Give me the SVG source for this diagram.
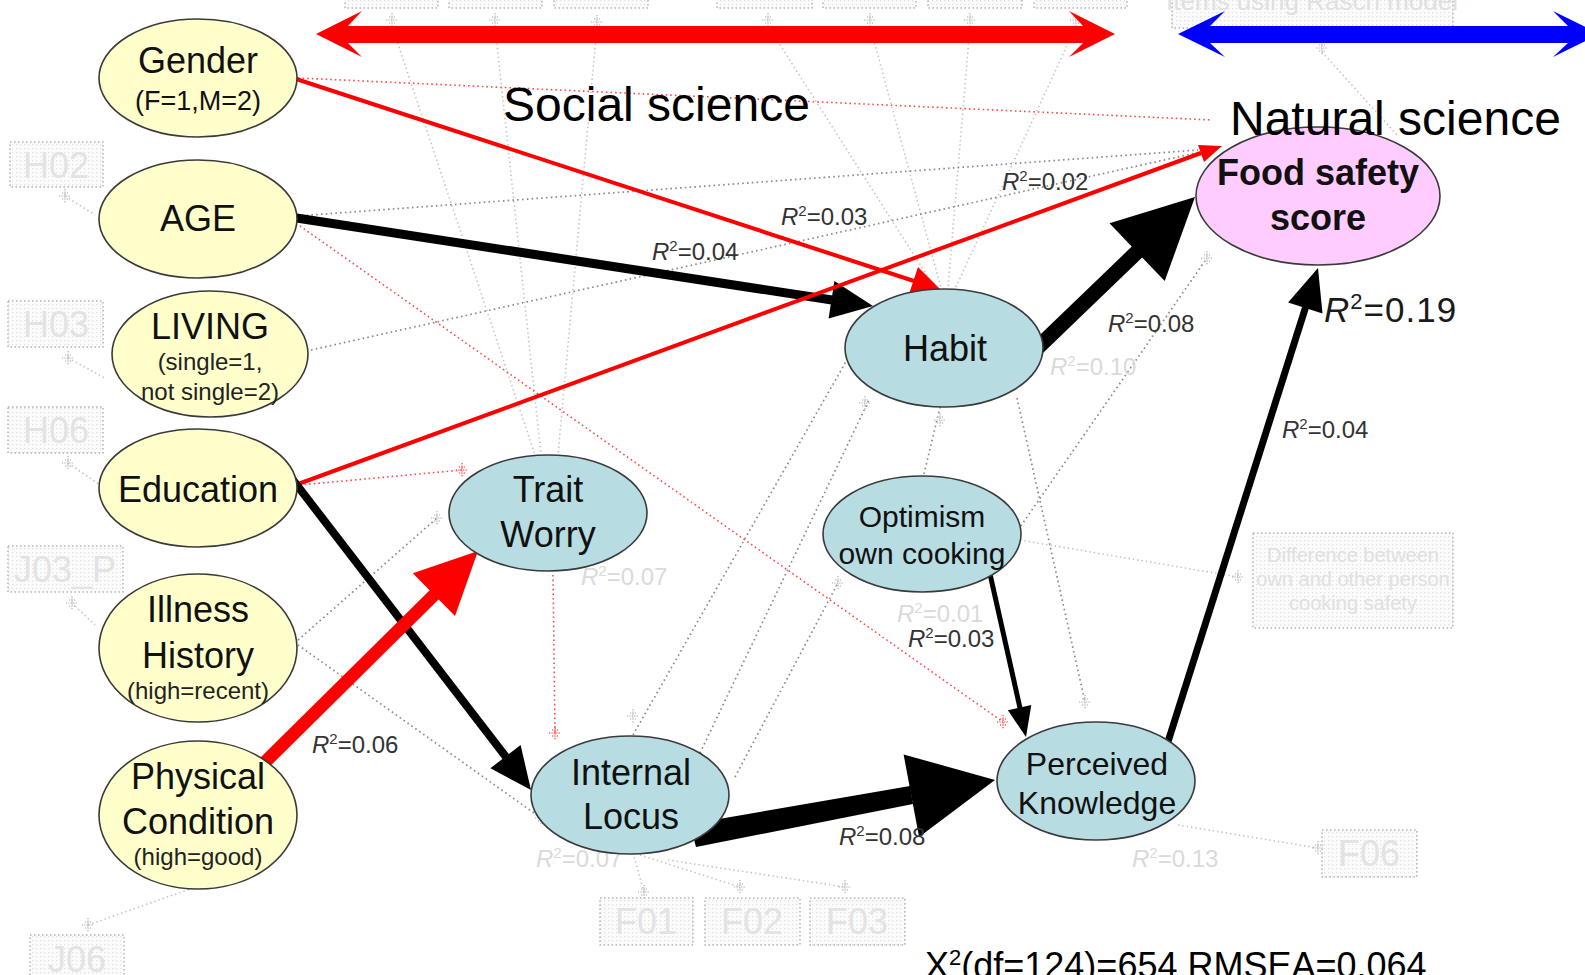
<svg xmlns="http://www.w3.org/2000/svg" xmlns:xlink="http://www.w3.org/1999/xlink" width="1585" height="975" viewBox="0 0 1585 975">
  <defs>
    <pattern id="dots" width="4" height="4" patternUnits="userSpaceOnUse">
      <rect width="4" height="4" fill="#fbfbfb"/>
      <rect width="1.2" height="1.2" fill="#e0e0e0"/>
    </pattern>
    <g id="pl">
      <path d="M-6,0 H6 M0,-7 V7 M-3,-3 H3 M-3,3 H3" fill="none" stroke="#c4c4c4" stroke-width="1.6" stroke-dasharray="1.2 1.2"/>
    </g>
    <g id="plr">
      <path d="M-6,0 H6 M0,-7 V7 M-3,-3 H3 M-3,3 H3" fill="none" stroke="#ff6a6a" stroke-width="1.6" stroke-dasharray="1.2 1.2"/>
    </g>
    <style>
      .box { fill: url(#dots); stroke: #b4b4b4; stroke-width: 1.5; stroke-dasharray: 1.5 2.5; }
      .boxt { font-family: "Liberation Sans", Arial, sans-serif; font-size: 36px; fill: #e3e3e3; text-anchor: middle; }
      .boxs { font-family: "Liberation Sans", Arial, sans-serif; font-size: 20px; fill: #e0e0e0; text-anchor: middle; }
      .dg { fill: none; stroke: #8a8a8a; stroke-width: 1.7; stroke-dasharray: 1.6 3.2; }
      .dl { fill: none; stroke: #c2c2c2; stroke-width: 1.6; stroke-dasharray: 1.4 3; }
      .dr { fill: none; stroke: #ff4a4a; stroke-width: 1.6; stroke-dasharray: 1.6 3; }
      .yl { fill: #ffffcc; stroke: #3a3a3a; stroke-width: 1.6; }
      .bl { fill: #b7dde3; stroke: #3a3a3a; stroke-width: 1.6; }
      .pk { fill: #ffccff; stroke: #3a3a3a; stroke-width: 1.6; }
      .t { font-family: "Liberation Sans", Arial, sans-serif; text-anchor: middle; fill: #111; }
      .t36 { font-size: 36px; }
      .t32 { font-size: 32px; }
      .t30 { font-size: 30px; }
      .t27 { font-size: 27px; }
      .t24 { font-size: 24px; fill: #222; }
      .big { font-family: "Liberation Sans", Arial, sans-serif; font-size: 48px; fill: #000; }
      .r2 { font-family: "Liberation Sans", Arial, sans-serif; font-size: 24px; fill: #333; }
      .r2f { font-family: "Liberation Sans", Arial, sans-serif; font-size: 24px; fill: #dadada; }
      .ital { font-style: italic; }
      .red { fill: #ff0000; }
      .redl { stroke: #ff0000; fill: none; }
      .blk { fill: #000; }
      .blkl { stroke: #000; fill: none; }
    </style>
  </defs>

  <rect width="1585" height="975" fill="#ffffff"/>

  <!-- faint measurement items and their dotted paths -->
  <g id="background-items">
    <rect class="box" x="345" y="-10" width="93" height="18"/>
    <rect class="box" x="449" y="-10" width="93" height="18"/>
    <rect class="box" x="554" y="-10" width="94" height="18"/>
    <rect class="box" x="717" y="-10" width="95" height="18"/>
    <rect class="box" x="823" y="-10" width="93" height="18"/>
    <rect class="box" x="928" y="-10" width="94" height="18"/>
    <rect class="box" x="1034" y="-10" width="93" height="18"/>
    <rect class="box" x="1172" y="-10" width="281" height="38"/>
    <text class="boxs" x="1312" y="10" style="font-size:26px">Items using Rasch model</text>

    <rect class="box" x="10" y="142" width="93" height="45"/>
    <text class="boxt" x="56" y="178">H02</text>
    <rect class="box" x="8" y="301" width="95" height="46"/>
    <text class="boxt" x="56" y="337">H03</text>
    <rect class="box" x="8" y="407" width="95" height="46"/>
    <text class="boxt" x="56" y="443">H06</text>
    <rect class="box" x="8" y="546" width="115" height="46"/>
    <text class="boxt" x="65" y="582">J03_P</text>
    <rect class="box" x="30" y="935" width="94" height="50"/>
    <text class="boxt" x="77" y="972">J06</text>
    <rect class="box" x="600" y="898" width="93" height="47"/>
    <text class="boxt" x="646" y="934">F01</text>
    <rect class="box" x="705" y="898" width="95" height="47"/>
    <text class="boxt" x="752" y="934">F02</text>
    <rect class="box" x="810" y="898" width="95" height="47"/>
    <text class="boxt" x="857" y="934">F03</text>
    <rect class="box" x="1322" y="830" width="95" height="47"/>
    <text class="boxt" x="1369" y="866">F06</text>
    <rect class="box" x="1253" y="533" width="200" height="95"/>
    <text class="boxs" x="1353" y="562">Difference between</text>
    <text class="boxs" x="1353" y="586">own and other person</text>
    <text class="boxs" x="1353" y="610">cooking safety</text>

    <!-- dotted paths -->
    <path class="dl" d="M392,26 L535,455 M495,26 L541,454 M597,26 L558,455"/>
    <path class="dl" d="M768,26 L935,288 M870,26 L941,288 M970,26 L948,288 M1076,26 L955,289"/>
    <path class="dl" d="M1322,52 L1397,135"/>
    <path class="dg" d="M297,216 L1198,150"/>
    <path class="dg" d="M311,350 L1200,152"/>
    <path class="dr" d="M298,78 L1212,120"/>
    <path class="dr" d="M300,226 L1003,722"/>
    <path class="dr" d="M300,485 L462,470"/>
    <path class="dr" d="M553,575 L555,733"/>
    <path class="dg" d="M298,640 L437,518"/>
    <path class="dg" d="M298,645 L541,818"/>
    <path class="dg" d="M633,735 L848,358"/>
    <path class="dg" d="M700,753 L869,400"/>
    <path class="dg" d="M735,777 L838,583"/>
    <path class="dg" d="M940,407 L924,474"/>
    <path class="dg" d="M1017,398 L1085,702"/>
    <path class="dg" d="M1018,530 L1207,258"/>
    <path class="dl" d="M1020,540 L1238,577"/>
    <path class="dl" d="M633,853 L644,892 M640,855 L740,887 M668,860 L845,887"/>
    <path class="dl" d="M1178,825 L1318,848"/>
    <path class="dl" d="M193,888 L88,925"/>
    <path class="dl" d="M65,196 L95,215 M68,358 L105,378 M68,463 L100,485 M72,603 L95,625"/>

    <use xlink:href="#pl" x="392" y="20"/>
    <use xlink:href="#pl" x="495" y="20"/>
    <use xlink:href="#pl" x="597" y="22"/>
    <use xlink:href="#pl" x="768" y="20"/>
    <use xlink:href="#pl" x="870" y="20"/>
    <use xlink:href="#pl" x="970" y="20"/>
    <use xlink:href="#pl" x="1076" y="20"/>
    <use xlink:href="#pl" x="1322" y="48"/>
    <use xlink:href="#pl" x="65" y="196"/>
    <use xlink:href="#pl" x="68" y="358"/>
    <use xlink:href="#pl" x="68" y="463"/>
    <use xlink:href="#pl" x="72" y="603"/>
    <use xlink:href="#pl" x="88" y="925"/>
    <use xlink:href="#pl" x="437" y="518"/>
    <use xlink:href="#pl" x="541" y="818"/>
    <use xlink:href="#pl" x="644" y="892"/>
    <use xlink:href="#pl" x="740" y="887"/>
    <use xlink:href="#pl" x="845" y="887"/>
    <use xlink:href="#pl" x="1318" y="848"/>
    <use xlink:href="#pl" x="1238" y="577"/>
    <use xlink:href="#pl" x="838" y="583"/>
    <use xlink:href="#pl" x="940" y="420"/>
    <use xlink:href="#pl" x="865" y="403"/>
    <use xlink:href="#pl" x="633" y="716"/>
    <use xlink:href="#pl" x="1085" y="702"/>
    <use xlink:href="#pl" x="1207" y="258"/>
    <use xlink:href="#plr" x="462" y="470"/>
    <use xlink:href="#plr" x="555" y="733"/>
    <use xlink:href="#plr" x="1003" y="722"/>

    <text class="r2f" x="1050" y="375"><tspan class="ital">R</tspan><tspan dy="-9" font-size="15">2</tspan><tspan dy="9">=0.10</tspan></text>
    <text class="r2f" x="581" y="585"><tspan class="ital">R</tspan><tspan dy="-9" font-size="15">2</tspan><tspan dy="9">=0.07</tspan></text>
    <text class="r2f" x="897" y="622"><tspan class="ital">R</tspan><tspan dy="-9" font-size="15">2</tspan><tspan dy="9">=0.01</tspan></text>
    <text class="r2f" x="536" y="867"><tspan class="ital">R</tspan><tspan dy="-9" font-size="15">2</tspan><tspan dy="9">=0.07</tspan></text>
    <text class="r2f" x="1132" y="867"><tspan class="ital">R</tspan><tspan dy="-9" font-size="15">2</tspan><tspan dy="9">=0.13</tspan></text>
  </g>

  <!-- discipline span arrows -->
  <g id="span-arrows">
    <polygon class="red" points="316,34 362,11 348,26 1083,26 1069,11 1115,34 1069,57 1083,43 348,43 362,57"/>
    <polygon fill="#0000ff" points="1178,34 1225,11 1210,26 1568,26 1553,11 1600,34 1553,57 1568,43 1210,43 1225,57"/>
  </g>

  <!-- structural paths -->
  <g id="connectors">
    <!-- Gender -> Habit -->
    <line class="redl" x1="290" y1="77" x2="914" y2="281" stroke-width="4"/>
    <polygon class="red" points="940,289 909,294 918,267"/>
    <!-- AGE -> Habit -->
    <line class="blkl" x1="290" y1="217" x2="832" y2="300" stroke-width="9"/>
    <polygon class="blk" points="873,306 828.6,318.5 834.4,280.9"/>
    <!-- Education -> Food safety score -->
    <line class="redl" x1="290" y1="487" x2="1201" y2="153" stroke-width="4"/>
    <polygon class="red" points="1222,146 1204,162 1198,145"/>
    <!-- Education -> Internal Locus -->
    <line class="blkl" x1="293" y1="480" x2="506" y2="757" stroke-width="8"/>
    <polygon class="blk" points="531,790 490.4,768.2 520.6,745.1"/>
    <!-- Physical Condition -> Trait Worry -->
    <line class="redl" x1="262" y1="765" x2="435" y2="594" stroke-width="13"/>
    <polygon class="red" points="478,551 455,616 412.8,573.3"/>
    <!-- Internal Locus -> Perceived Knowledge -->
    <polygon class="blk" points="696,847 690,824 910,786 913,804"/>
    <polygon class="blk" points="995,780 919.1,837 903.6,754.4"/>
    <!-- Habit -> Food safety score -->
    <line class="blkl" x1="1030" y1="355" x2="1138" y2="251" stroke-width="15"/>
    <polygon class="blk" points="1195,197 1164.7,281.1 1109.5,223.3"/>
    <!-- Optimism -> Perceived Knowledge -->
    <line class="blkl" x1="988" y1="565" x2="1020" y2="708" stroke-width="5"/>
    <polygon class="blk" points="1026,737 1007.9,710.3 1031.3,705.1"/>
    <!-- Perceived Knowledge -> Food safety score -->
    <line class="blkl" x1="1166" y1="748" x2="1306" y2="306" stroke-width="7"/>
    <polygon class="blk" points="1318,268 1322.5,313.4 1288.1,302.6"/>
  </g>

  <!-- nodes -->
  <g id="gender">
    <ellipse class="yl" cx="198" cy="78" rx="99" ry="59"/>
    <text class="t t36" x="198" y="73">Gender</text>
    <text class="t t27" x="198" y="110">(F=1,M=2)</text>
  </g>
  <g id="age">
    <ellipse class="yl" cx="198" cy="219" rx="99" ry="59"/>
    <text class="t t36" x="198" y="231">AGE</text>
  </g>
  <g id="living">
    <ellipse class="yl" cx="210" cy="354" rx="98" ry="63"/>
    <text class="t t36" x="210" y="339">LIVING</text>
    <text class="t t24" x="210" y="370">(single=1,</text>
    <text class="t t24" x="210" y="400">not single=2)</text>
  </g>
  <g id="education">
    <ellipse class="yl" cx="198" cy="488" rx="99" ry="59"/>
    <text class="t t36" x="198" y="502">Education</text>
  </g>
  <g id="illness-history">
    <ellipse class="yl" cx="198" cy="648" rx="99" ry="74"/>
    <text class="t t36" x="198" y="622">Illness</text>
    <text class="t t36" x="198" y="668">History</text>
    <text class="t t24" x="198" y="699">(high=recent)</text>
  </g>
  <g id="physical-condition">
    <ellipse class="yl" cx="198" cy="815" rx="99" ry="74"/>
    <text class="t t36" x="198" y="789">Physical</text>
    <text class="t t36" x="198" y="834">Condition</text>
    <text class="t t24" x="198" y="865">(high=good)</text>
  </g>
  <g id="trait-worry">
    <ellipse class="bl" cx="548" cy="513" rx="99" ry="58"/>
    <text class="t t36" x="548" y="502">Trait</text>
    <text class="t t36" x="548" y="547">Worry</text>
  </g>
  <g id="habit">
    <ellipse class="bl" cx="944" cy="348" rx="99" ry="59"/>
    <text class="t t36" x="945" y="361">Habit</text>
  </g>
  <g id="optimism">
    <ellipse class="bl" cx="922" cy="534" rx="99" ry="58"/>
    <text class="t t30" x="922" y="527">Optimism</text>
    <text class="t t30" x="922" y="564">own cooking</text>
  </g>
  <g id="internal-locus">
    <ellipse class="bl" cx="630" cy="795" rx="99" ry="59"/>
    <text class="t t36" x="631" y="785">Internal</text>
    <text class="t t36" x="631" y="829">Locus</text>
  </g>
  <g id="perceived-knowledge">
    <ellipse class="bl" cx="1096" cy="781" rx="99" ry="59"/>
    <text class="t t32" x="1097" y="775">Perceived</text>
    <text class="t t32" x="1097" y="814">Knowledge</text>
  </g>
  <g id="food-safety-score">
    <ellipse class="pk" cx="1318" cy="196" rx="122" ry="69"/>
    <text class="t t36" x="1318" y="185" font-weight="bold">Food safety</text>
    <text class="t t36" x="1318" y="230" font-weight="bold">score</text>
  </g>

  <!-- labels -->
  <g id="labels">
    <text class="big" x="503" y="121">Social science</text>
    <text class="big" x="1230" y="135">Natural science</text>

    <text class="r2" x="652" y="260"><tspan class="ital">R</tspan><tspan dy="-9" font-size="15">2</tspan><tspan dy="9">=0.04</tspan></text>
    <text class="r2" x="781" y="225"><tspan class="ital">R</tspan><tspan dy="-9" font-size="15">2</tspan><tspan dy="9">=0.03</tspan></text>
    <text class="r2" x="1002" y="190"><tspan class="ital">R</tspan><tspan dy="-9" font-size="15">2</tspan><tspan dy="9">=0.02</tspan></text>
    <text class="r2" x="1108" y="332"><tspan class="ital">R</tspan><tspan dy="-9" font-size="15">2</tspan><tspan dy="9">=0.08</tspan></text>
    <text class="r2" x="1282" y="438"><tspan class="ital">R</tspan><tspan dy="-9" font-size="15">2</tspan><tspan dy="9">=0.04</tspan></text>
    <text class="r2" x="312" y="753"><tspan class="ital">R</tspan><tspan dy="-9" font-size="15">2</tspan><tspan dy="9">=0.06</tspan></text>
    <text class="r2" x="908" y="647"><tspan class="ital">R</tspan><tspan dy="-9" font-size="15">2</tspan><tspan dy="9">=0.03</tspan></text>
    <text class="r2" x="839" y="845"><tspan class="ital">R</tspan><tspan dy="-9" font-size="15">2</tspan><tspan dy="9">=0.08</tspan></text>

    <text x="1324" y="322" font-family="'Liberation Sans', Arial, sans-serif" font-size="35" fill="#1a1a1a" letter-spacing="1"><tspan font-style="italic">R</tspan><tspan dy="-13" font-size="22">2</tspan><tspan dy="13">=0.19</tspan></text>

    <text x="925" y="978" font-family="'Liberation Sans', Arial, sans-serif" font-size="36" fill="#000">X<tspan dy="-13" font-size="22">2</tspan><tspan dy="13">(df=124)=654 RMSEA=0.064</tspan></text>
  </g>
</svg>
